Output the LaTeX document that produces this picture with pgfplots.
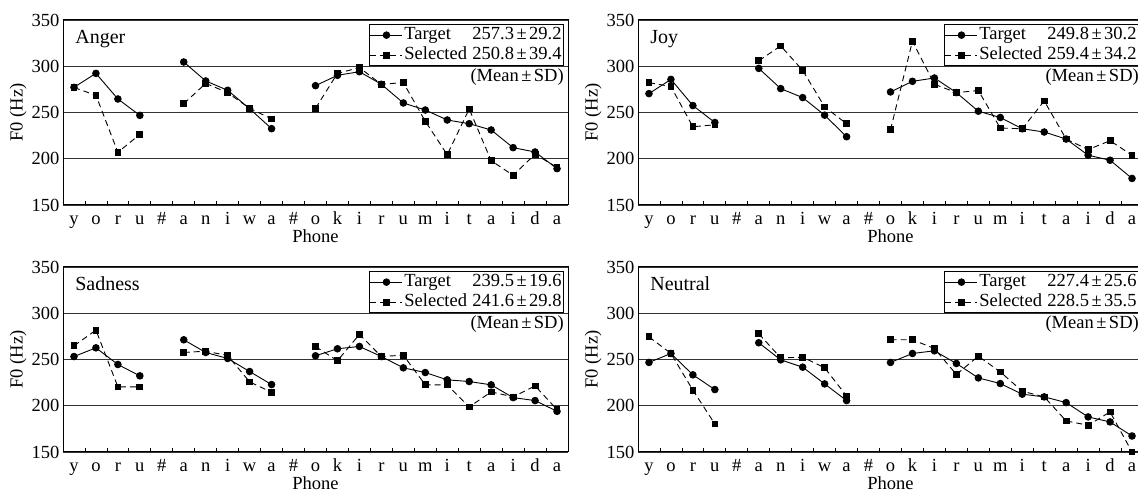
\documentclass[border=0pt]{standalone}
\usepackage{fontspec}
\setmainfont{Liberation Serif}
\usepackage{pgfplots}
\usepackage{pgfplotstable}
\pgfplotsset{compat=1.18}

\pgfplotstableread{
x T S
0 277.2 277.0
1 292.3 268.6
2 264.6 206.9
3 246.9 226.4
4 nan nan
5 304.6 259.5
6 284.1 281.5
7 274.0 271.4
8 254.1 254.5
9 232.5 243.0
10 nan nan
11 279.0 254.5
12 290.2 292.3
13 294.1 298.5
14 280.5 280.5
15 260.3 282.3
16 252.7 240.5
17 241.9 204.4
18 237.9 253.8
19 231.1 197.9
20 212.0 182.1
21 207.3 204.8
22 189.3 190.7
}\angerdata

\pgfplotstableread{
x T S
0 270.4 282.3
1 285.8 278.0
2 257.5 234.6
3 239.2 236.7
4 nan nan
5 297.7 305.9
6 275.8 322.0
7 266.1 295.5
8 247.1 256.1
9 223.8 237.8
10 nan nan
11 272.2 231.4
12 283.7 327.1
13 287.3 280.5
14 271.5 271.5
15 251.4 273.7
16 244.6 233.2
17 232.4 232.4
18 228.9 262.5
19 221.3 221.3
20 203.8 209.9
21 198.4 219.5
22 178.7 203.8
}\joydata

\pgfplotstableread{
x T S
0 253.2 264.8
1 262.6 281.8
2 244.6 220.4
3 232.3 220.4
4 nan nan
5 271.3 257.6
6 257.6 259.0
7 251.1 254.3
8 237.0 225.8
9 222.9 214.6
10 nan nan
11 254.0 264.1
12 261.6 248.6
13 264.1 277.1
14 253.2 253.2
15 241.0 254.7
16 235.9 222.6
17 228.0 222.6
18 226.2 198.7
19 222.6 215.0
20 208.8 209.6
21 205.6 221.5
22 194.0 195.8
}\sadnessdata

\pgfplotstableread{
x T S
0 246.8 274.5
1 256.5 256.5
2 233.4 216.8
3 217.5 180.3
4 nan nan
5 268.1 277.8
6 249.6 251.8
7 241.7 252.5
8 223.6 241.0
9 205.6 210.6
10 nan nan
11 246.8 271.3
12 256.5 271.3
13 259.4 261.9
14 245.7 233.8
15 230.1 253.6
16 224.0 236.6
17 212.5 215.7
18 209.6 209.6
19 203.4 183.6
20 187.9 178.9
21 182.5 193.3
22 167.3 150.0
}\neutraldata

\newcommand{\pmw}{\kern2.5pt±\kern2.5pt}

\pgfplotsset{
  panel/.style={
    width=505pt, height=185pt, scale only axis,
    xmin=-0.5, xmax=22.5, ymin=150, ymax=350,
    clip=false,
    unbounded coords=jump,
    xtick={0,...,22},
    xticklabels={y,o,r,u,\#,a,n,i,w,a,\#,o,k,i,r,u,m,i,t,a,i,d,a},
    minor xtick={0.5,1.5,...,21.5},
    ytick={150,200,...,350},
    ymajorgrids,
    grid style={black!80, line width=0.8pt},
    major tick length=0pt, minor tick length=4pt,
    minor tick style={black, line width=0.8pt},
    tick pos=left,
    axis line style={black, line width=1pt},
    /pgf/number format/assume math mode=true,
    tick label style={font=\fontsize{18.5}{20}\selectfont},
    xticklabel style={anchor=north, inner sep=1pt, text height=18pt, text depth=4pt},
    label style={font=\fontsize{18.5}{20}\selectfont},
    xlabel={Phone},
    ylabel={F0 (Hz)},
    xlabel style={at={(axis description cs:0.5,-0.205)}, anchor=base},
    ylabel style={at={(axis description cs:-0.089,0.5)}, anchor=center},
    legend cell align=left,
    legend style={at={(rel axis cs:0.992,0.977)}, anchor=north east,
      draw=black, line width=0.8pt, inner sep=0.5pt, row sep=0pt,
      font=\fontsize{18.5}{20}\selectfont,
      nodes={inner sep=1.5pt, text height=13pt, text depth=4pt},
      /tikz/every even column/.append style={column sep=0pt}},
    legend image code/.code={\draw[mark repeat=2,mark phase=2,##1] plot coordinates {(0pt,0pt) (16pt,0pt) (32pt,0pt)};},
  },
  tgt/.style={black, line width=0.9pt, mark=*, mark size=3.3pt, mark options={solid}},
  sel/.style={black, line width=0.9pt, dash pattern=on 6pt off 4pt, mark=square*, mark size=2.9pt, mark options={solid}},
}

\newcommand{\ttl}[1]{\node[anchor=base west, font=\fontsize{20}{22}\selectfont, inner sep=0pt] at (rel axis cs:0.024,0.874) {#1};}
\newcommand{\msd}{\node[anchor=base east, font=\fontsize{18.5}{20}\selectfont, inner sep=0pt] at (rel axis cs:0.992,0.67) {(Mean\pmw SD)};}

\begin{document}
\begin{tikzpicture}
% Anger
\begin{axis}[panel, at={(63pt,287pt)}, anchor=south west]
\addplot[tgt] table[x=x,y=T]{\angerdata};
\addlegendentry{\makebox[68pt][l]{Target}257.3\pmw 29.2}
\addplot[sel] table[x=x,y=S]{\angerdata};
\addlegendentry{\makebox[68pt][l]{Selected}250.8\pmw 39.4}
\ttl{Anger}
\msd
\end{axis}
% Joy
\begin{axis}[panel, at={(638pt,287pt)}, anchor=south west]
\addplot[tgt] table[x=x,y=T]{\joydata};
\addlegendentry{\makebox[68pt][l]{Target}249.8\pmw 30.2}
\addplot[sel] table[x=x,y=S]{\joydata};
\addlegendentry{\makebox[68pt][l]{Selected}259.4\pmw 34.2}
\ttl{Joy}
\msd
\end{axis}
% Sadness
\begin{axis}[panel, at={(63pt,40pt)}, anchor=south west]
\addplot[tgt] table[x=x,y=T]{\sadnessdata};
\addlegendentry{\makebox[68pt][l]{Target}239.5\pmw 19.6}
\addplot[sel] table[x=x,y=S]{\sadnessdata};
\addlegendentry{\makebox[68pt][l]{Selected}241.6\pmw 29.8}
\ttl{Sadness}
\msd
\end{axis}
% Neutral
\begin{axis}[panel, at={(638pt,40pt)}, anchor=south west]
\addplot[tgt] table[x=x,y=T]{\neutraldata};
\addlegendentry{\makebox[68pt][l]{Target}227.4\pmw 25.6}
\addplot[sel] table[x=x,y=S]{\neutraldata};
\addlegendentry{\makebox[68pt][l]{Selected}228.5\pmw 35.5}
\ttl{Neutral}
\msd
\end{axis}
\pgfresetboundingbox
\path[use as bounding box] (0pt,0pt) rectangle (1138pt,492pt);
\end{tikzpicture}
\end{document}
